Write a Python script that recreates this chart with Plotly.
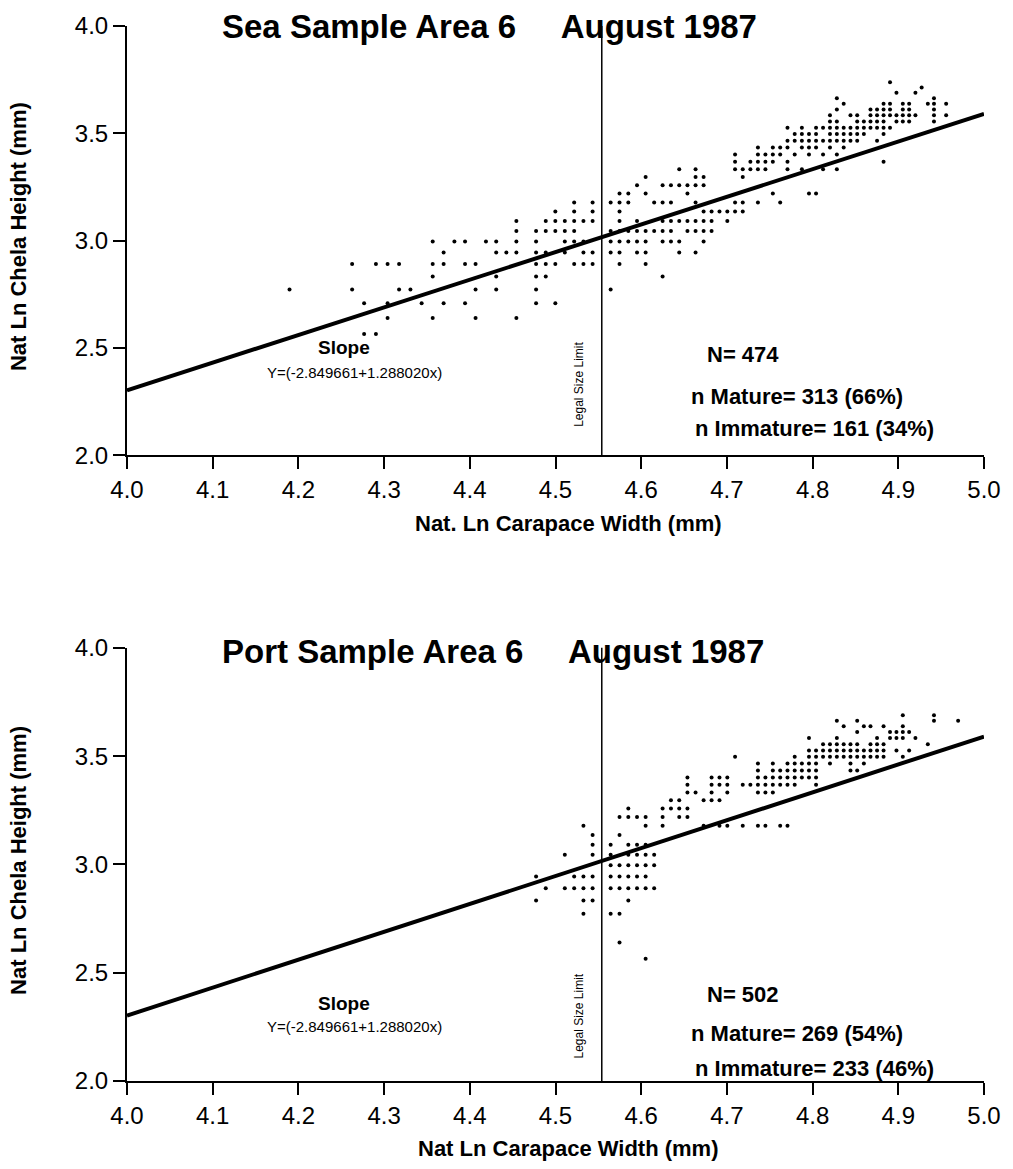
import numpy as np
import plotly.graph_objects as go

# ---------------- data (widths / heights in mm, plotted as natural log) -------------
sea_points_mm = [
    (133, 42), (138, 41), (134, 40), (137, 40), (125, 39), (140, 39),
    (126, 38), (132, 38), (133, 38), (135, 38), (136, 38), (139, 38), (140, 38), (142, 38),
    (125, 37), (130, 37), (131, 37), (132, 37), (133, 37), (135, 37), (136, 37), (140, 37),
    (124, 36), (127, 36), (128, 36), (130, 36), (131, 36), (132, 36), (133, 36), (134, 36), (135, 36),
    (136, 36), (137, 36), (140, 36), (142, 36),
    (124, 35), (125, 35), (128, 35), (129, 35), (130, 35), (131, 35), (132, 35), (134, 35), (135, 35),
    (136, 35), (140, 35),
    (118, 34), (120, 34), (122, 34), (123, 34), (124, 34), (125, 34), (126, 34), (127, 34), (128, 34),
    (129, 34), (130, 34), (131, 34), (132, 34), (133, 34),
    (119, 33), (120, 33), (121, 33), (122, 33), (124, 33), (125, 33), (126, 33), (127, 33), (128, 33),
    (129, 33), (132, 33),
    (118, 32), (119, 32), (120, 32), (121, 32), (122, 32), (123, 32), (124, 32), (125, 32), (126, 32),
    (127, 32), (128, 32), (131, 32),
    (114, 31), (116, 31), (117, 31), (118, 31), (120, 31), (121, 31), (122, 31), (124, 31), (126, 31),
    (111, 30), (114, 30), (115, 30), (116, 30), (117, 30), (119, 30), (121, 30), (123, 30), (125, 30),
    (111, 29), (113, 29), (114, 29), (115, 29), (116, 29), (118, 29), (132, 29),
    (104, 28), (106, 28), (111, 28), (112, 28), (113, 28), (114, 28), (115, 28), (118, 28), (120, 28),
    (123, 28), (125, 28),
    (100, 27), (106, 27), (107, 27), (112, 27),
    (99, 26), (102, 26), (103, 26), (104, 26), (105, 26), (106, 26), (107, 26),
    (97, 25), (98, 25), (100, 25), (105, 25), (116, 25), (121, 25), (122, 25),
    (92, 24), (94, 24), (96, 24), (97, 24), (98, 24), (101, 24), (102, 24), (103, 24), (106, 24),
    (111, 24), (112, 24), (114, 24), (117, 24),
    (90, 23), (92, 23), (94, 23), (97, 23), (107, 23), (108, 23), (109, 23), (110, 23), (111, 23), (112, 23),
    (86, 22), (89, 22), (90, 22), (91, 22), (92, 22), (93, 22), (94, 22), (97, 22), (99, 22), (102, 22),
    (103, 22), (104, 22), (105, 22), (106, 22), (107, 22), (108, 22), (110, 22),
    (86, 21), (88, 21), (89, 21), (90, 21), (91, 21), (92, 21), (96, 21), (97, 21), (98, 21), (99, 21),
    (100, 21), (101, 21), (102, 21), (103, 21), (105, 21), (106, 21), (107, 21), (108, 21),
    (78, 20), (80, 20), (81, 20), (83, 20), (84, 20), (86, 20), (88, 20), (91, 20), (92, 20), (93, 20),
    (96, 20), (97, 20), (98, 20), (99, 20), (100, 20), (102, 20), (103, 20), (104, 20), (107, 20),
    (79, 19), (84, 19), (85, 19), (86, 19), (88, 19), (89, 19), (91, 19), (93, 19), (94, 19), (96, 19),
    (97, 19), (99, 19), (100, 19), (104, 19), (106, 19),
    (71, 18), (73, 18), (74, 18), (75, 18), (78, 18), (79, 18), (81, 18), (82, 18), (88, 18), (89, 18),
    (90, 18), (92, 18), (93, 18), (94, 18), (97, 18), (100, 18),
    (78, 17), (84, 17), (88, 17), (89, 17), (102, 17),
    (66, 16), (71, 16), (75, 16), (76, 16), (82, 16), (84, 16), (88, 16), (96, 16),
    (72, 15), (74, 15), (77, 15), (79, 15), (81, 15), (88, 15), (90, 15),
    (74, 14), (78, 14), (82, 14), (86, 14),
    (72, 13), (73, 13),
]

port_points_mm = [
    (135, 40), (140, 40), (125, 39), (128, 39), (140, 39), (144, 39),
    (126, 38), (129, 38), (130, 38), (132, 38), (135, 38),
    (128, 37), (133, 37), (134, 37), (135, 37), (136, 37),
    (121, 36), (125, 36), (131, 36), (133, 36), (134, 36), (135, 36), (137, 36),
    (123, 35), (124, 35), (125, 35), (126, 35), (127, 35), (128, 35), (130, 35), (131, 35), (132, 35), (139, 35),
    (121, 34), (122, 34), (123, 34), (124, 34), (125, 34), (126, 34), (127, 34), (128, 34), (129, 34),
    (130, 34), (131, 34), (132, 34), (134, 34), (136, 34),
    (111, 33), (119, 33), (121, 33), (122, 33), (123, 33), (124, 33), (125, 33), (126, 33), (127, 33),
    (128, 33), (129, 33), (130, 33), (131, 33), (132, 33), (135, 33),
    (114, 32), (116, 32), (118, 32), (119, 32), (120, 32), (121, 32), (122, 32), (124, 32), (127, 32), (129, 32),
    (114, 31), (116, 31), (117, 31), (118, 31), (119, 31), (120, 31), (121, 31), (122, 31), (127, 31), (128, 31),
    (105, 30), (108, 30), (109, 30), (110, 30), (114, 30), (115, 30), (116, 30), (117, 30), (118, 30),
    (119, 30), (120, 30), (121, 30), (122, 30),
    (105, 29), (108, 29), (109, 29), (110, 29), (112, 29), (113, 29), (114, 29), (115, 29), (116, 29),
    (117, 29), (118, 29), (119, 29), (122, 29),
    (105, 28), (106, 28), (108, 28), (110, 28), (114, 28), (115, 28), (116, 28),
    (103, 27), (104, 27), (107, 27), (108, 27), (109, 27),
    (98, 26), (102, 26), (103, 26), (104, 26), (105, 26),
    (97, 25), (98, 25), (99, 25), (100, 25), (102, 25), (104, 25), (105, 25),
    (93, 24), (100, 24), (102, 24), (107, 24), (109, 24), (110, 24), (112, 24), (114, 24), (115, 24),
    (117, 24), (118, 24),
    (94, 23), (97, 23),
    (94, 22), (96, 22), (98, 22), (99, 22), (100, 22),
    (91, 21), (94, 21), (96, 21), (98, 21), (99, 21), (100, 21), (101, 21),
    (96, 20), (97, 20), (98, 20), (99, 20), (100, 20), (101, 20),
    (88, 19), (92, 19), (93, 19), (94, 19), (96, 19), (97, 19), (98, 19), (99, 19), (100, 19),
    (89, 18), (91, 18), (92, 18), (93, 18), (94, 18), (96, 18), (97, 18), (98, 18), (99, 18), (100, 18), (101, 18),
    (88, 17), (93, 17), (94, 17), (98, 17),
    (93, 16), (96, 16), (97, 16),
    (97, 14), (100, 13),
]

reg_intercept = -2.849661
reg_slope = 1.288020
legal_size_ln = 4.554          # ln(95 mm)
x_ticks = [4.0, 4.1, 4.2, 4.3, 4.4, 4.5, 4.6, 4.7, 4.8, 4.9, 5.0]
y_ticks = [2.0, 2.5, 3.0, 3.5, 4.0]

titles = ["Sea Sample Area 6\u00a0\u00a0\u00a0\u00a0 August 1987",
          "Port Sample Area 6\u00a0\u00a0\u00a0\u00a0 August 1987"]
x_titles = ["Nat. Ln Carapace Width (mm)", "Nat Ln Carapace Width (mm)"]
y_title = "Nat Ln Chela Height (mm)"
n_texts = [["N= 474", "n Mature= 313 (66%)", "n Immature= 161 (34%)"],
           ["N= 502", "n Mature= 269 (54%)", "n Immature= 233 (46%)"]]
slope_label = "Slope"
formula_label = "Y=(-2.849661+1.288020x)"
legal_label = "Legal Size Limit"

# ---------------- figure ----------------
FONT = "Liberation Sans, Arial, Helvetica, sans-serif"
W, H = 1013, 1169
L, R, T, B = 127, 25, 24, 88
fig = go.Figure()

datasets = [sea_points_mm, port_points_mm]
axes = [("x", "y"), ("x2", "y2")]
for (xa, ya), pts in zip(axes, datasets):
    w_mm = np.array([p[0] for p in pts], dtype=float)
    h_mm = np.array([p[1] for p in pts], dtype=float)
    fig.add_trace(go.Scatter(x=np.log(w_mm), y=np.log(h_mm), mode="markers",
                             marker=dict(color="black", size=4, line=dict(width=0)),
                             xaxis=xa, yaxis=ya, showlegend=False, cliponaxis=False))
    xl = np.array([x_ticks[0], x_ticks[-1]])
    fig.add_trace(go.Scatter(x=xl, y=reg_intercept + reg_slope * xl, mode="lines",
                             line=dict(color="black", width=4), xaxis=xa, yaxis=ya, showlegend=False))

axis_common = dict(showline=True, linecolor="black", linewidth=2, ticks="outside", ticklen=12,
                   tickwidth=2, tickcolor="black", showgrid=False, zeroline=False,
                   tickfont=dict(family=FONT, size=24, color="black"), mirror=False)

plot_h = H - T - B
top_dom = [1 - (454 - T) / plot_h, 1.0]
bot_dom = [0.0, 1 - (647 - T) / plot_h]

fig.update_layout(
    width=W, height=H, margin=dict(l=L, r=R, t=T, b=B),
    paper_bgcolor="white", plot_bgcolor="white",
    xaxis=dict(range=[4.0, 5.0], tickvals=x_ticks, tickformat=".1f", anchor="y", **axis_common),
    yaxis=dict(range=[2.0, 4.0], tickvals=y_ticks, tickformat=".1f", domain=top_dom, anchor="x", **axis_common),
    xaxis2=dict(range=[4.0, 5.0], tickvals=x_ticks, tickformat=".1f", anchor="y2", **axis_common),
    yaxis2=dict(range=[2.0, 4.0], tickvals=y_ticks, tickformat=".1f", domain=bot_dom, anchor="x2", **axis_common),
)

def px_to_paper_x(px):
    return (px - L) / (W - L - R)

def py_to_paper_y(py):
    return (H - B - py) / plot_h

ann = []
shapes = []
title_py = [25, 651]
xtitle_py = [522, 1149]
ytitle_py = [235, 860]
n_y = [[2.47, 2.274, 2.126], [2.40, 2.22, 2.06]]
slope_y = [[2.50, 2.385], [2.36, 2.25]]
legal_y = [2.33, 2.30]
for i, ((xa, ya), dom) in enumerate(zip(axes, [top_dom, bot_dom])):
    ann.append(dict(text="<b>" + titles[i] + "</b>", xref="paper", yref="paper",
                    x=px_to_paper_x(220), y=py_to_paper_y(title_py[i]), xanchor="left", yanchor="middle",
                    showarrow=False, font=dict(family=FONT, size=33, color="black")))
    ann.append(dict(text="<b>" + x_titles[i] + "</b>", xref="paper", yref="paper",
                    x=px_to_paper_x(571), y=py_to_paper_y(xtitle_py[i]), xanchor="center", yanchor="middle",
                    showarrow=False, font=dict(family=FONT, size=22, color="black")))
    ann.append(dict(text="<b>" + y_title + "</b>", xref="paper", yref="paper", textangle=-90,
                    x=px_to_paper_x(18), y=py_to_paper_y(ytitle_py[i]), xanchor="center", yanchor="middle",
                    showarrow=False, font=dict(family=FONT, size=22, color="black")))
    xs = [4.675, 4.656, 4.660]
    for t, xx, yy in zip(n_texts[i], xs, n_y[i]):
        ann.append(dict(text="<b>" + t + "</b>", xref=xa, yref=ya, x=xx, y=yy, xanchor="left",
                        yanchor="middle", showarrow=False, font=dict(family=FONT, size=22, color="black")))
    ann.append(dict(text="<b>" + slope_label + "</b>", xref=xa, yref=ya, x=4.253, y=slope_y[i][0],
                    xanchor="center", yanchor="middle", showarrow=False,
                    font=dict(family=FONT, size=19, color="black")))
    ann.append(dict(text=formula_label, xref=xa, yref=ya, x=4.265, y=slope_y[i][1],
                    xanchor="center", yanchor="middle", showarrow=False,
                    font=dict(family=FONT, size=15, color="black")))
    ann.append(dict(text=legal_label, xref=xa, yref=ya, x=4.528, y=legal_y[i], textangle=-90,
                    xanchor="center", yanchor="middle", showarrow=False,
                    font=dict(family=FONT, size=12, color="black")))
    shapes.append(dict(type="line", xref=xa, yref=ya + " domain", x0=legal_size_ln, x1=legal_size_ln,
                       y0=0, y1=1, line=dict(color="black", width=1.5)))

fig.update_layout(annotations=ann, shapes=shapes)
fig.write_html("out.html")
